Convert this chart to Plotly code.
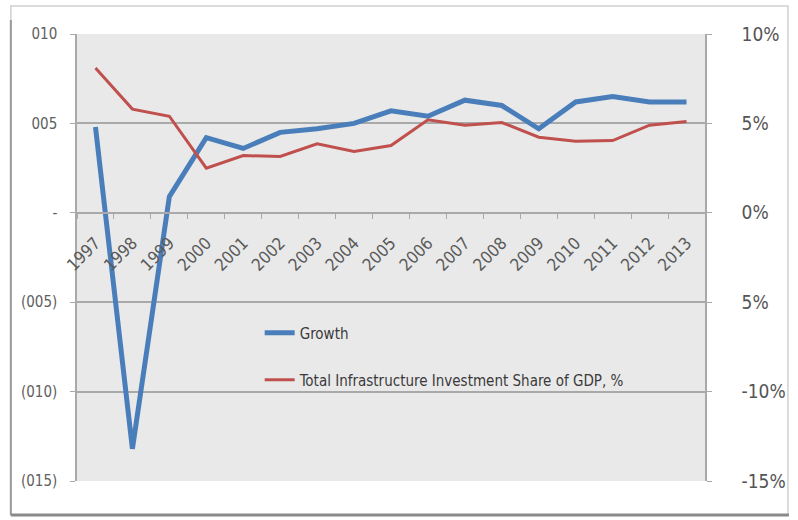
import plotly.graph_objects as go

years = [str(y) for y in range(1997, 2014)]
growth = [0.048, -0.132, 0.009, 0.042, 0.036, 0.045, 0.047, 0.050, 0.057,
          0.054, 0.063, 0.060, 0.047, 0.062, 0.065, 0.062, 0.062]
infra = [0.081, 0.058, 0.054, 0.025, 0.032, 0.0315, 0.0386, 0.0343, 0.0376,
         0.052, 0.049, 0.0505, 0.0423, 0.040, 0.0404, 0.049, 0.051]

left_vals = [0.10, 0.05, 0.0, -0.05, -0.10, -0.15]
left_text = ["010", "005", "-", "(005)", "(010)", "(015)"]
right_text = ["10%", "5%", "0%", "5%", "-10%", "-15%"]

FONT = "DejaVu Sans Condensed, Liberation Sans Narrow, sans-serif"
GRID = "#a9a9a9"

fig = go.Figure()
fig.add_trace(go.Scatter(x=years, y=growth, mode="lines", name="Growth",
                         line=dict(color="#4a7ebb", width=5), legend="legend",
                         showlegend=True))
fig.add_trace(go.Scatter(x=years, y=infra, mode="lines",
                         name="Total Infrastructure Investment Share of GDP, %",
                         line=dict(color="#c0504d", width=3), yaxis="y2",
                         legend="legend2", showlegend=True))

L, R, T, B = 77, 85, 34, 39
W, H = 798, 520
pw, ph = W - L - R, H - T - B

def px_x(p):
    return (p - L) / pw

def px_y(p):
    return 1 - (p - T) / ph

fig.update_layout(
    width=W, height=H,
    margin=dict(l=L, r=R, t=T, b=B),
    showlegend=True,
    paper_bgcolor="white",
    plot_bgcolor="#e9e9e9",
    font=dict(family=FONT, color="#595959"),
    xaxis=dict(type="category", range=[-0.5, 16.5], anchor="free", position=0.6,
               showline=True, linecolor=GRID, linewidth=1.5,
               ticks="outside", tickson="boundaries", ticklen=5, tickcolor=GRID,
               tickangle=-45, ticklabelstandoff=13,
               tickfont=dict(size=17, color="#5a5a5a"),
               showgrid=False, zeroline=False),
    yaxis=dict(range=[-0.15, 0.10], tickvals=left_vals, ticktext=left_text,
               showgrid=True, gridcolor=GRID, gridwidth=1.5,
               showline=True, linecolor=GRID, linewidth=1.5,
               ticks="outside", ticklen=5, tickcolor=GRID,
               ticklabelstandoff=10,
               tickfont=dict(size=15, color="#606060"), zeroline=False),
    yaxis2=dict(range=[-0.15, 0.10], tickvals=left_vals, ticktext=right_text,
                overlaying="y", side="right", showgrid=False,
                showline=True, linecolor=GRID, linewidth=1.5,
                ticks="outside", ticklen=5, tickcolor=GRID,
                ticklabelstandoff=26,
                tickfont=dict(size=19, color="#555555"), zeroline=False),
    legend=dict(x=px_x(262), y=px_y(333), xanchor="left", yanchor="middle",
                bgcolor="rgba(0,0,0,0)", font=dict(size=15, color="#3a3a3a")),
    legend2=dict(x=px_x(262), y=px_y(380), xanchor="left", yanchor="middle",
                 bgcolor="rgba(0,0,0,0)", font=dict(size=15, color="#3a3a3a")),
    shapes=[
        dict(type="rect", xref="paper", yref="paper",
             x0=px_x(10), x1=px_x(797), y0=px_y(515), y1=px_y(6),
             line=dict(color="#d0d0d0", width=1.5), layer="below"),
        dict(type="line", xref="paper", yref="paper",
             x0=px_x(10), x1=px_x(10), y0=px_y(515), y1=px_y(20),
             line=dict(color="#9a9a9a", width=2)),
        dict(type="line", xref="paper", yref="paper",
             x0=px_x(10), x1=px_x(798), y0=px_y(515), y1=px_y(515),
             line=dict(color="#8a8a8a", width=3)),
    ],
)

fig.write_html("out.html")
